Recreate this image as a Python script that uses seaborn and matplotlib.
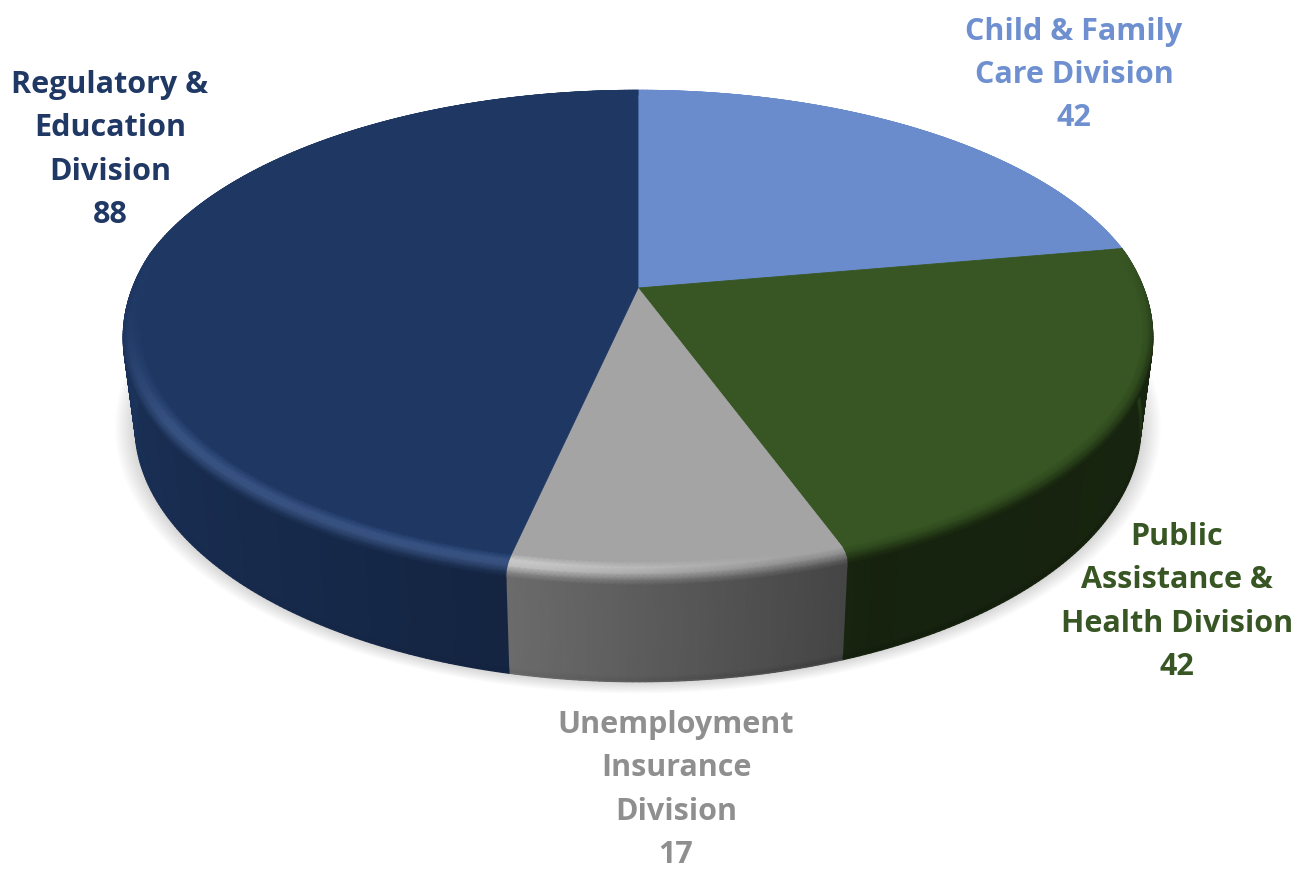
import numpy as np
import matplotlib
matplotlib.use("Agg")
import matplotlib.pyplot as plt
import seaborn as sns

# Staff counts per division, clockwise from twelve o'clock
divisions = ["Child & Family\nCare Division",
             "Public\nAssistance &\nHealth Division",
             "Unemployment\nInsurance\nDivision",
             "Regulatory &\nEducation\nDivision"]
counts = [42, 42, 17, 88]
slice_colors = ["#6A8ccd", "#375623", "#a4a4a4", "#1e3763"]
label_colors = ["#6f90d0", "#375623", "#8f8f8f", "#203864"]
label_anchor = [(1074, 75), (1177, 602), (676, 790), (110, 150)]

sns.set_theme(style="white")
plt.rcParams["font.family"] = ["Open Sans", "DejaVu Sans"]

W, H = 1304, 873
fig = plt.figure(figsize=(W / 100, H / 100), dpi=100)
ax = fig.add_axes([0, 0, 1, 1])
ax.set_xlim(0, W)
ax.set_ylim(H, 0)
ax.axis("off")

# Perspective view of a flat disc
CX, CY, A, B, K, DEPTH = 638.0, 288.0, 507.0, 234.0, 0.1835, 97.0
FACE_R = 0.962


def project(r, theta, z=0.0):
    """Disc coordinates (radius, angle, depth 0..1) to canvas pixels."""
    u, v = r * np.cos(theta), r * np.sin(theta)
    w = 1 + K * v
    return CX + A * u / w * (1 - 0.025 * z), CY - B * v / w + DEPTH * z * (1 + 0.18 * (-v - 0.4))


def side_gain(u):
    return np.interp(u, [-1, -0.8, -0.25, 0.39, 1], [0.88, 0.8, 0.67, 0.40, 0.42])


def rim_light(u):
    return np.interp(u, [-1, -0.85, -0.2, 0.25, 1], [0.03, 0.16, 0.17, 0.0, 0.0])


# Bevel-and-wall profile: (radius, depth, weight of wall shading, weight of rim light)
bevel_rows = np.array([
    (FACE_R, 0.000, 0.00, 0.0),
    (0.978, 0.003, 0.00, 0.9),
    (0.990, 0.020, 0.25, 1.0),
    (0.998, 0.050, 0.70, 0.4),
    (1.000, 0.095, 1.00, 0.0),
])
wall_rows = np.array([
    (1.000, 0.095, 1.00, 0.0),
    (1.000, 0.940, 1.00, 0.0),
    (0.998, 1.000, 1.12, 0.0),
])


def shaded_mesh(rows, thetas, base, zorder):
    """Gouraud-shaded strip following the slice's arc through the given rows."""
    n = len(thetas)
    X, Y = np.empty((len(rows), n)), np.empty((len(rows), n))
    C = np.empty((len(rows), n, 3))
    u, v = np.cos(thetas), np.sin(thetas)
    front = np.clip((0.15 - v) / 0.45, 0, 1)
    for j, (r, z, wall, light) in enumerate(rows):
        X[j], Y[j] = project(r, thetas, z * front if z < 0.2 else z)
        gain = 1 + (side_gain(u) - 1) * wall * front
        col = base[None, :] * gain[:, None]
        glow = (rim_light(u) * light * front)[:, None]
        # The rim light keeps the hue of the slice instead of washing out to white
        C[j] = np.clip(col + glow * (0.55 + 0.7 * col), 0, 1)
    ax.pcolormesh(X, Y, C, shading="gouraud", zorder=zorder)
    return C


# Soft ground shadow below the disc
edge = np.linspace(0, 2 * np.pi, 400)
sx, sy = project(1.0, edge, 1.0)
for s in np.linspace(1.040, 1.002, 14):
    ax.fill(CX + (sx - CX) * s, 395 + (sy - 395) * s, color="black", alpha=0.0105, lw=0, zorder=1)

fractions = np.array(counts) / np.sum(counts)
stops = np.pi / 2 - 2 * np.pi * np.concatenate([[0], np.cumsum(fractions)])
palette = sns.color_palette(slice_colors)

for i, (base, th0, th1) in enumerate(zip(palette, stops[:-1], stops[1:])):
    base = np.array(base)
    n = max(int(abs(th1 - th0) / np.radians(0.6)), 8)
    thetas = np.linspace(th0, th1, n)

    # Wall first, then the bevel painted from its outer edge inwards
    C = shaded_mesh(wall_rows, thetas, base, 2 + i * 0.01)

    # Anti-aliased outer silhouette of the wall
    below = np.sin(thetas) < 0.3
    bx, by = project(1.0, thetas, 0.995)
    for a, b in zip(np.flatnonzero(below)[:-1], np.flatnonzero(below)[1:]):
        ax.plot(bx[[a, b]], by[[a, b]], color=C[-2, a], lw=1.2, zorder=2.3, solid_capstyle="round")

    shaded_mesh(bevel_rows[::-1], thetas, base, 2.5 + i * 0.01)

    # Flat top of the slice
    arc_x, arc_y = project(FACE_R, thetas)
    ax.fill(np.r_[CX, arc_x], np.r_[CY, arc_y], color=base, lw=0.6, ec=base, zorder=3 + i * 0.01)

    # Label carrying the division name and its count
    lx, ly = label_anchor[i]
    ax.text(lx, ly, f"{divisions[i]}\n{counts[i]}", ha="center", va="center", color=label_colors[i],
            fontsize=22, fontweight="bold", linespacing=1.57, zorder=5)

fig.savefig("out.png", dpi=100, facecolor="white")
